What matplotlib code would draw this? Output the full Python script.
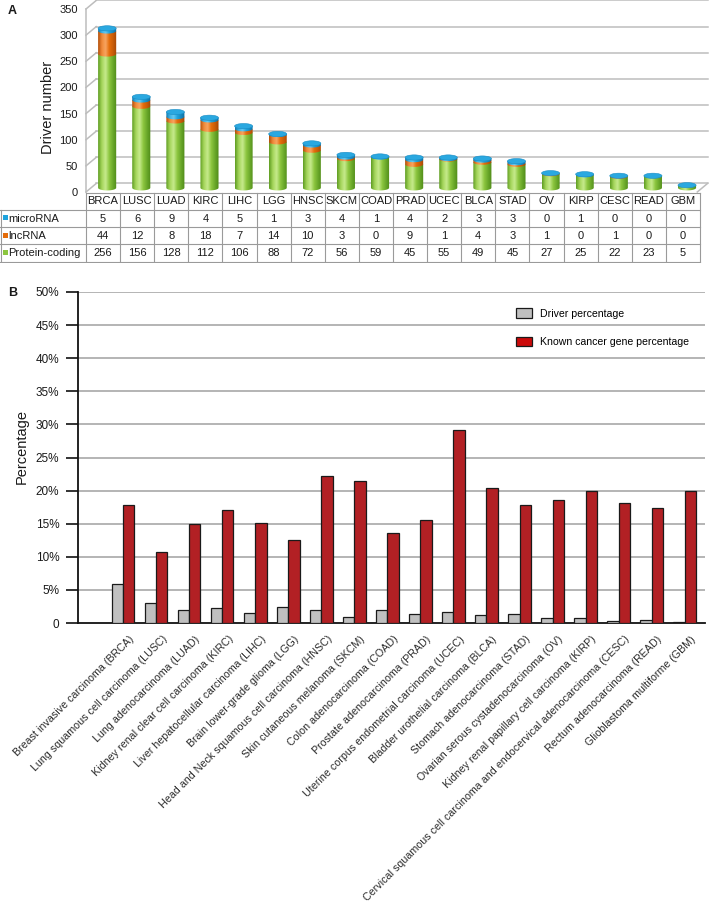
import matplotlib
matplotlib.use("Agg")
import matplotlib.pyplot as plt
import numpy as np
from matplotlib.patches import PathPatch, Ellipse, Rectangle, Patch
from matplotlib.path import Path
from matplotlib.colors import LinearSegmentedColormap
import matplotlib.transforms as mtransforms

plt.rcParams['font.family'] = ['Liberation Sans', 'DejaVu Sans']

# ---------------- data ----------------
codes = ["BRCA", "LUSC", "LUAD", "KIRC", "LIHC", "LGG", "HNSC", "SKCM", "COAD",
         "PRAD", "UCEC", "BLCA", "STAD", "OV", "KIRP", "CESC", "READ", "GBM"]
microRNA = [5, 6, 9, 4, 5, 1, 3, 4, 1, 4, 2, 3, 3, 0, 1, 0, 0, 0]
lncRNA = [44, 12, 8, 18, 7, 14, 10, 3, 0, 9, 1, 4, 3, 1, 0, 1, 0, 0]
protein_coding = [256, 156, 128, 112, 106, 88, 72, 56, 59, 45, 55, 49, 45, 27, 25, 22, 23, 5]
row_names = ["microRNA", "lncRNA", "Protein-coding"]
yticksA = [0, 50, 100, 150, 200, 250, 300, 350]

full_names = ["Breast invasive carcinoma (BRCA)",
              "Lung squamous cell carcinoma (LUSC)",
              "Lung adenocarcinoma (LUAD)",
              "Kidney renal clear cell carcinoma (KIRC)",
              "Liver hepatocellular carcinoma (LIHC)",
              "Brain lower-grade glioma (LGG)",
              "Head and Neck squamous cell carcinoma (HNSC)",
              "Skin cutaneous melanoma (SKCM)",
              "Colon adenocarcinoma (COAD)",
              "Prostate adenocarcinoma (PRAD)",
              "Uterine corpus endometrial carcinoma (UCEC)",
              "Bladder urothelial carcinoma (BLCA)",
              "Stomach adenocarcinoma (STAD)",
              "Ovarian serous cystadenocarcinoma (OV)",
              "Kidney renal papillary cell carcinoma (KIRP)",
              "Cervical squamous cell carcinoma and endocervical adenocarcinoma (CESC)",
              "Rectum adenocarcinoma (READ)",
              "Glioblastoma multiforme (GBM)"]
driver_pct = [5.95, 3.0, 2.0, 2.2, 1.55, 2.4, 1.95, 0.95, 1.9, 1.4, 1.65, 1.25, 1.3, 0.75, 0.8, 0.35, 0.4, 0.15]
known_pct = [17.9, 10.8, 14.9, 17.0, 15.1, 12.5, 22.2, 21.4, 13.6, 15.6, 29.1, 20.4, 17.8, 18.6, 20.0, 18.2, 17.4, 20.0]
yticksB = [0, 5, 10, 15, 20, 25, 30, 35, 40, 45, 50]

# ---------------- figure ----------------
W, H = 709, 922
fig = plt.figure(figsize=(W / 100, H / 100), dpi=100)
def fx(p): return p / W
def fy(p): return 1 - p / H

TXT = "#1a1a1a"

# ================= Panel A =================
axA = fig.add_axes([fx(86), fy(192), (700 - 86) / W, (192 - 9) / H])
n = len(codes)
XL, XR = -0.5, 17.5
axA.set_xlim(XL, XR)
axA.set_ylim(0, 350)
for s in axA.spines.values():
    s.set_visible(False)
axA.set_xticks([])
axA.set_yticks(yticksA)
axA.set_yticklabels([str(v) for v in yticksA])
axA.tick_params(axis='y', length=0, pad=6, labelsize=8, labelcolor=TXT)

ddx, ddy = 0.30, 16.3      # 3D depth offset (data units)
xr_front = 17.42
gcol = "#bdbdbd"
for v in yticksA:
    axA.plot([XL + ddx, xr_front + ddx], [v + ddy, v + ddy], color=gcol, lw=1.1, zorder=1, clip_on=False)
    axA.plot([XL, XL + ddx], [v, v + ddy], color=gcol, lw=1.1, zorder=1, clip_on=False)
axA.plot([XL, XL], [0, 350], color=gcol, lw=1.1, zorder=1, clip_on=False)
axA.plot([xr_front, xr_front + ddx], [0, ddy], color=gcol, lw=1.1, zorder=1, clip_on=False)

cm_green = LinearSegmentedColormap.from_list("g", ["#5f9e22", "#a6d65c", "#c6ea8c", "#8cc63f", "#6aa82a", "#4f8a18"])
cm_orange = LinearSegmentedColormap.from_list("o", ["#b34e08", "#f08a3a", "#f7a460", "#e46c0a", "#c85c08", "#a24606"])
cm_blue = LinearSegmentedColormap.from_list("b", ["#1279ad", "#3cb2e6", "#66c8f0", "#1ea3dd", "#1689c0", "#0f6e9e"])
grad = np.linspace(0, 1, 64).reshape(1, -1)

cw = 0.53    # cylinder width
eh = 10.0    # ellipse height in data units
base = 8.0
xoff = 0.12

def cylinder(xc, y0, y1, cmap, z):
    t = np.linspace(np.pi, 2 * np.pi, 40)
    xs = list(xc + cw / 2 * np.cos(t))
    ys = list(y0 + eh / 2 * np.sin(t))
    verts = [(xc - cw / 2, y1)] + list(zip(xs, ys)) + [(xc + cw / 2, y1), (xc - cw / 2, y1)]
    path = Path(verts)
    pp = PathPatch(path, transform=axA.transData, facecolor='none', edgecolor='none', zorder=z)
    axA.add_patch(pp)
    im = axA.imshow(grad, cmap=cmap, aspect='auto', interpolation='bilinear',
                    extent=[xc - cw / 2, xc + cw / 2, y0 - eh / 2 - 1, y1], zorder=z)
    im.set_clip_path(pp)

for i in range(n):
    xc = i + xoff
    y0 = base
    y1 = y0 + protein_coding[i]
    cylinder(xc, y0, y1, cm_green, 3)
    if lncRNA[i] > 0:
        y2 = y1 + lncRNA[i]
        cylinder(xc, y1, y2, cm_orange, 4)
    else:
        y2 = y1
    if microRNA[i] > 0:
        y3 = y2 + microRNA[i]
        cylinder(xc, y2, y3, cm_blue, 5)
    else:
        y3 = y2
    axA.add_patch(Ellipse((xc, y3), cw, eh, facecolor="#2aa8e0", edgecolor="#1a8cc4", lw=0.4, zorder=6))
axA.set_xlim(XL, XR)
axA.set_ylim(0, 350)

fig.text(fx(8), fy(11), "A", fontsize=9, fontweight='bold', ha='left', va='center', color=TXT)
fig.text(fx(47.5), fy(107), "Driver number", fontsize=10.5, rotation=90, ha='center', va='center', color=TXT)

# ---- table ----
tA = fig.add_axes([0, fy(263), 1, (263 - 191) / H])
tA.set_xlim(0, W)
tA.set_ylim(263, 191)
tA.axis('off')
colw = (700 - 86) / n
rows_y = [193, 209.5, 226.8, 244.1, 261.5]
lc = "#9a9a9a"
lw_t = 0.8
tA.plot([86, 700], [rows_y[0], rows_y[0]], color=lc, lw=lw_t)
for yy in rows_y[1:]:
    tA.plot([0, 700], [yy, yy], color=lc, lw=lw_t)
tA.plot([0.5, 0.5], [rows_y[1], rows_y[-1]], color=lc, lw=lw_t)
for j in range(n + 1):
    xx = 86 + colw * j
    tA.plot([xx, xx], [rows_y[0], rows_y[-1]], color=lc, lw=lw_t)
series = [microRNA, lncRNA, protein_coding]
mcolors = ["#1ea3dd", "#e46c0a", "#8cc63f"]
for j in range(n):
    xc = 86 + colw * (j + 0.5)
    tA.text(xc, (rows_y[0] + rows_y[1]) / 2, codes[j], ha='center', va='center', fontsize=8, color=TXT)
    for r in range(3):
        tA.text(xc, (rows_y[r + 1] + rows_y[r + 2]) / 2 + 0.5, str(series[r][j]), ha='center', va='center',
                fontsize=8, color=TXT)
for r in range(3):
    yc = (rows_y[r + 1] + rows_y[r + 2]) / 2
    tA.add_patch(Rectangle((2.5, yc - 2.8), 5, 5, facecolor=mcolors[r], edgecolor='none'))
    tA.text(8, yc + 0.5, row_names[r], ha='left', va='center', fontsize=8, color=TXT)

# ================= Panel B =================
axB = fig.add_axes([fx(78), fy(623), (705 - 78) / W, (623 - 292) / H])
x = np.arange(n)
bw = 0.335
axB.bar(x - bw / 2, driver_pct, bw, color="#c0c0c0", edgecolor="#1a1a1a", lw=0.9, zorder=3,
        label="Driver percentage")
axB.bar(x + bw / 2, known_pct, bw, color="#b22024", edgecolor="#1a1a1a", lw=0.9, zorder=3,
        label="Known cancer gene percentage")
axB.set_xlim(-1.376, 17.62)
axB.set_ylim(0, 50)
axB.set_yticks(yticksB)
axB.set_yticklabels(["0"] + ["%d%%" % v for v in yticksB[1:]])
for v in yticksB[1:]:
    axB.axhline(v, color="#a8a8a8", lw=1.2, zorder=1)
for s in ["top", "right"]:
    axB.spines[s].set_visible(False)
axB.spines["left"].set_linewidth(1.3)
axB.spines["bottom"].set_linewidth(1.3)
axB.spines["left"].set_color("#111111")
axB.spines["bottom"].set_color("#111111")
axB.tick_params(axis='y', length=8.5, width=1.2, pad=5, labelsize=8.5, labelcolor=TXT, color="#111111")
axB.tick_params(axis='x', length=0, pad=4, labelsize=7.7, labelcolor="#2a2a2a")
axB.set_xticks(x)
axB.set_xticklabels(full_names, rotation=45, ha='right', va='center', rotation_mode='anchor')
offset = mtransforms.ScaledTranslation(9 / 100, -9 / 100, fig.dpi_scale_trans)
for lab in axB.get_xticklabels():
    lab.set_transform(lab.get_transform() + offset)

handles = [Patch(facecolor="#c0c0c0", edgecolor="#1a1a1a", lw=0.9),
           Patch(facecolor="#cc0a0a", edgecolor="#1a1a1a", lw=0.9)]
axB.legend(handles, ["Driver percentage", "Known cancer gene percentage"],
           loc='upper left', bbox_to_anchor=((512 - 78) / (705 - 78), 1 - (304 - 292) / (623 - 292)),
           frameon=False, fontsize=7.6, handlelength=1.5, handleheight=1.0, handletextpad=0.8,
           labelspacing=1.75, borderaxespad=0)

fig.text(fx(8), fy(293), "B", fontsize=9, fontweight='bold', ha='left', va='center', color=TXT)
fig.text(fx(22), fy(446), "Percentage", fontsize=10.5, rotation=90, ha='center', va='center', color=TXT)

fig.savefig("out.png", dpi=100)
